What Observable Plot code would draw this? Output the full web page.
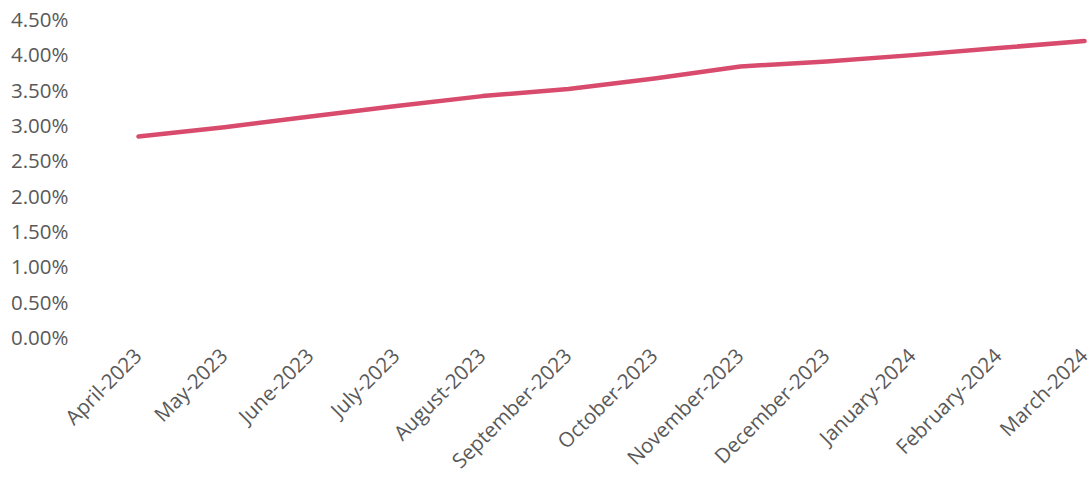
<!DOCTYPE html>
<html>
<head>
<meta charset="utf-8">
<script src="https://cdn.jsdelivr.net/npm/d3@7"></script>
<script src="https://cdn.jsdelivr.net/npm/@observablehq/plot@0.6"></script>
<style>
  html, body { margin: 0; padding: 0; background: #fff; }
  #chart svg { display: block; }
</style>
</head>
<body>
<div id="chart"></div>
<script>
const months = ["April-2023","May-2023","June-2023","July-2023","August-2023","September-2023","October-2023","November-2023","December-2023","January-2024","February-2024","March-2024"];
const rates = [2.86, 2.99, 3.14, 3.29, 3.43, 3.53, 3.68, 3.85, 3.92, 4.01, 4.11, 4.21];
const yTicks = [0, 0.5, 1, 1.5, 2, 2.5, 3, 3.5, 4, 4.5];

const data = months.map((m, i) => ({month: m, rate: rates[i]}));

const chart = Plot.plot({
  width: 1092,
  height: 481,
  marginTop: 20,
  marginBottom: 143,
  marginLeft: 133,
  marginRight: 4,
  style: {fontFamily: "'Open Sans', sans-serif", fontSize: "20px", color: "#595959", background: "#fff"},
  x: {type: "point", domain: months, padding: 0},
  y: {domain: [0, 4.5]},
  marks: [
    Plot.axisY({ticks: yTicks, tickSize: 0, tickPadding: 65, tickFormat: d => d.toFixed(2) + "%", label: null, fontSize: 20.5, fill: "#595959"}),
    Plot.axisX({tickSize: 0, tickRotate: -45, tickPadding: 14, label: null, fontSize: 20.5, fill: "#595959"}),
    Plot.line(data, {x: "month", y: "rate", stroke: "#d84b6d", strokeWidth: 4.5, strokeLinecap: "round", strokeLinejoin: "round"})
  ]
});
document.getElementById("chart").appendChild(chart);
</script>
</body>
</html>
